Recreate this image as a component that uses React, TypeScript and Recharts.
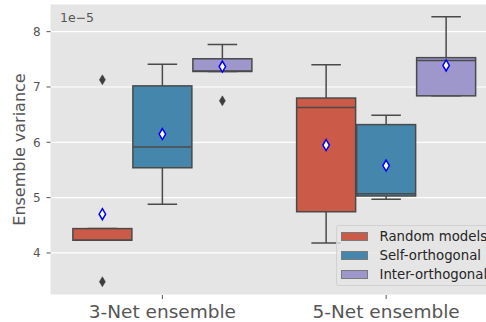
import React from 'react';
import { ComposedChart, Bar, XAxis, YAxis, CartesianGrid } from 'recharts';

const groups = ['3-Net ensemble', '5-Net ensemble'];
const seriesNames = ['Random models', 'Self-orthogonal', 'Inter-orthogonal'];
const seriesKeys = ['random', 'self', 'inter'];
const seriesColors = ['#CC5A49', '#4586AC', '#9E97CC'];
const yTicks = [4, 5, 6, 7, 8];

// values in units of 1e-5, index = group
const randomLow = [4.23, 4.18];
const randomQ1 = [4.23, 4.745];
const randomMedian = [4.23, 6.63];
const randomQ3 = [4.44, 6.8];
const randomHigh = [4.44, 7.4];
const randomMean = [4.7, 5.95];
const randomOutliers = [[7.13, 3.48], []];

const selfLow = [4.88, 4.97];
const selfQ1 = [5.54, 5.03];
const selfMedian = [5.915, 5.07];
const selfQ3 = [7.02, 6.32];
const selfHigh = [7.41, 6.49];
const selfMean = [6.15, 5.58];
const selfOutliers = [[], []];

const interLow = [7.28, 6.84];
const interQ1 = [7.28, 6.84];
const interMedian = [7.29, 7.48];
const interQ3 = [7.51, 7.53];
const interHigh = [7.77, 8.27];
const interMean = [7.37, 7.39];
const interOutliers = [[6.75], []];

const stats = [
  { low: randomLow, q1: randomQ1, med: randomMedian, q3: randomQ3, high: randomHigh, mean: randomMean, out: randomOutliers },
  { low: selfLow, q1: selfQ1, med: selfMedian, q3: selfQ3, high: selfHigh, mean: selfMean, out: selfOutliers },
  { low: interLow, q1: interQ1, med: interMedian, q3: interQ3, high: interHigh, mean: interMean, out: interOutliers },
];

const data = groups.map((g, gi) => {
  const row: any = { group: g };
  seriesKeys.forEach((k, si) => {
    row[k] = [stats[si].q1[gi], stats[si].q3[gi]];
  });
  return row;
});

const EDGE = '#4a4a4a';

function diamond(cx: number, cy: number, w: number, h: number) {
  return `M${cx},${cy - h / 2} L${cx + w / 2},${cy} L${cx},${cy + h / 2} L${cx - w / 2},${cy} Z`;
}

function makeBoxShape(si: number) {
  return (props: any) => {
    const { x, y, width, height, payload } = props;
    let gi = groups.indexOf(payload?.group);
    if (gi < 0) gi = props.index ?? 0;
    const st = stats[si];
    const q1 = st.q1[gi];
    const q3 = st.q3[gi];
    const top = Math.min(y, y + height);
    const h = Math.abs(height);
    const ppu = h / (q3 - q1);
    const py = (v: number) => top + (q3 - v) * ppu;
    const cx = x + width / 2;
    const capW = width / 4;
    return (
      <g>
        <line x1={cx} x2={cx} y1={py(st.high[gi])} y2={py(q3)} stroke={EDGE} strokeWidth={1.5} />
        <line x1={cx} x2={cx} y1={py(q1)} y2={py(st.low[gi])} stroke={EDGE} strokeWidth={1.5} />
        <line x1={cx - capW} x2={cx + capW} y1={py(st.high[gi])} y2={py(st.high[gi])} stroke={EDGE} strokeWidth={1.5} />
        <line x1={cx - capW} x2={cx + capW} y1={py(st.low[gi])} y2={py(st.low[gi])} stroke={EDGE} strokeWidth={1.5} />
        <rect x={x} y={top} width={width} height={h} fill={seriesColors[si]} stroke={EDGE} strokeWidth={1.5} />
        <line x1={x} x2={x + width} y1={py(st.med[gi])} y2={py(st.med[gi])} stroke={EDGE} strokeWidth={1.5} />
        {st.out[gi].map((v: number, i: number) => (
          <path key={i} d={diamond(cx, py(v), 6, 10)} fill="#3d3d3d" stroke="#3d3d3d" strokeWidth={0.5} />
        ))}
        <path d={diamond(cx, py(st.mean[gi]), 6.5, 11)} fill="#ffffff" stroke="#0000ff" strokeWidth={1.5} />
      </g>
    );
  };
}

const YLabel = (props: any) => {
  const vb = props.viewBox || {};
  const cy = vb.y !== undefined && vb.height ? vb.y + vb.height / 2 : 149.5;
  return (
    <g>
      <text transform={`translate(24.5, ${cy}) rotate(-90)`} textAnchor="middle" fontSize={16} fill="#555" fontFamily="DejaVu Sans">
        Ensemble variance
      </text>
      <text x={60} y={21.7} fontSize={12.5} fill="#555" fontFamily="DejaVu Sans">
        1e−5
      </text>
    </g>
  );
};

export default function App() {
  return (
    <div style={{ position: 'fixed', left: 0, top: 0, width: 486, height: 322, overflow: 'hidden', background: '#fff' }}>
      <ComposedChart
        width={510}
        height={322}
        data={data}
        margin={{ top: 4, right: 12, bottom: 0, left: 0.5 }}
        barCategoryGap="10%"
        barGap={1}
        style={{ fontFamily: 'DejaVu Sans' }}
      >
        <CartesianGrid vertical={false} stroke="#ffffff" strokeWidth={1.2} fill="#E5E5E5" />
        <XAxis
          dataKey="group"
          height={27}
          axisLine={false}
          tickSize={4}
          tickMargin={6}
          tickLine={{ stroke: '#555' }}
          tick={{ fontSize: 18.5, fill: '#555', fontFamily: 'DejaVu Sans' }}
          interval={0}
        />
        <YAxis
          width={50}
          domain={[3.24, 8.5]}
          ticks={yTicks}
          allowDataOverflow
          axisLine={false}
          tickSize={4}
          tickMargin={5.8}
          tickLine={{ stroke: '#555' }}
          tick={{ fontSize: 12, fill: '#555', fontFamily: 'DejaVu Sans' }}
          label={<YLabel />}
        />
        {seriesKeys.map((k, si) => (
          <Bar key={k} dataKey={k} name={seriesNames[si]} fill={seriesColors[si]} isAnimationActive={false} shape={makeBoxShape(si)} />
        ))}
      </ComposedChart>
      <div
        style={{
          position: 'absolute',
          left: 335.7,
          top: 225.3,
          width: 170,
          height: 61,
          background: 'rgba(229,229,229,0.8)',
          border: '1px solid rgba(204,204,204,0.8)',
          borderRadius: 3,
          boxSizing: 'border-box',
          fontFamily: 'DejaVu Sans',
        }}
      >
        {seriesNames.map((n, si) => (
          <div key={n} style={{ position: 'absolute', left: 0, top: 10.4 + si * 19 - 8, height: 16, width: 170 }}>
            <div
              style={{
                position: 'absolute',
                left: 4.5,
                top: 3.3,
                width: 27,
                height: 9.5,
                background: seriesColors[si],
                border: '1px solid #7a7a7a',
                boxSizing: 'border-box',
              }}
            />
            <div style={{ position: 'absolute', left: 42.8, top: 0, fontSize: 13.3, lineHeight: '16px', color: '#262626', whiteSpace: 'nowrap' }}>
              {n}
            </div>
          </div>
        ))}
      </div>
    </div>
  );
}
